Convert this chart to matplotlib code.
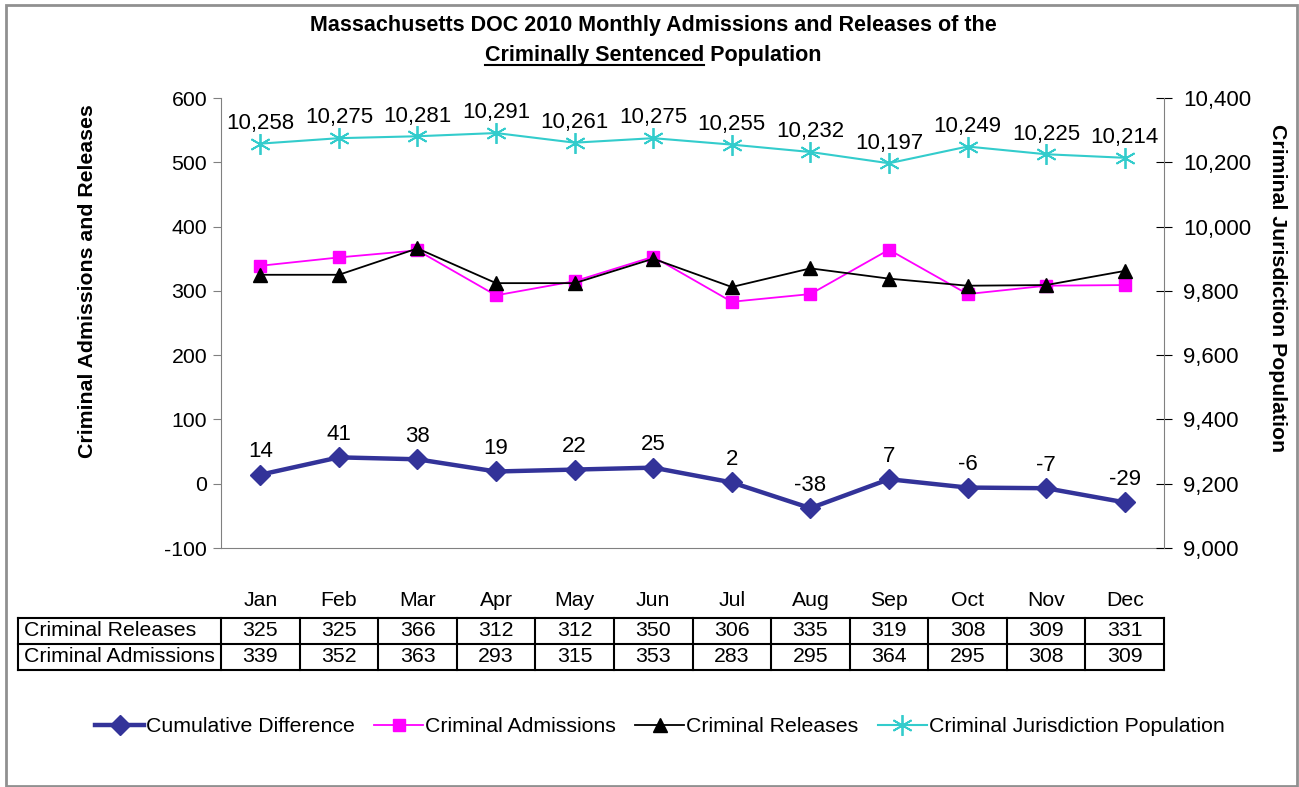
import numpy as np
import matplotlib.pyplot as plt
from matplotlib.lines import Line2D
from matplotlib.patches import Rectangle
import matplotlib.transforms as mtransforms

plt.rcParams['font.family'] = ['Liberation Sans', 'DejaVu Sans']
plt.rcParams['axes.unicode_minus'] = False

# Data
months = ['Jan', 'Feb', 'Mar', 'Apr', 'May', 'Jun', 'Jul', 'Aug', 'Sep', 'Oct', 'Nov', 'Dec']
releases = [325, 325, 366, 312, 312, 350, 306, 335, 319, 308, 309, 331]
admissions = [339, 352, 363, 293, 315, 353, 283, 295, 364, 295, 308, 309]
cum_diff = [14, 41, 38, 19, 22, 25, 2, -38, 7, -6, -7, -29]
population = [10258, 10275, 10281, 10291, 10261, 10275, 10255, 10232, 10197, 10249, 10225, 10214]

W, H = 1299, 787
fig = plt.figure(figsize=(W / 100, H / 100), dpi=100)

# plot area in pixels
x0, x1, ytop, ybot = 221, 1164, 98, 548
ax = fig.add_axes([x0 / W, 1 - ybot / H, (x1 - x0) / W, (ybot - ytop) / H])
ax2 = ax.twinx()

x = np.arange(len(months))
fs = 15.3

dark_blue = '#333399'
magenta = '#FF00FF'
turq = '#33CCCC'

l1, = ax.plot(x, cum_diff, color=dark_blue, lw=3.2, marker='D', ms=10, label='Cumulative Difference', zorder=4)
l2, = ax.plot(x, admissions, color=magenta, lw=1.3, marker='s', ms=9, label='Criminal Admissions', zorder=3)
l3, = ax.plot(x, releases, color='black', lw=1.3, marker='^', ms=10, label='Criminal Releases', zorder=4)
l4, = ax2.plot(x, population, color=turq, lw=1.5, marker=(6, 2, 0), ms=15, mew=1.3,
               label='Criminal Jurisdiction Population')

for xi, v in zip(x, cum_diff):
    ax.annotate(str(v), (xi, v), xytext=(0, 9), textcoords='offset points',
                ha='center', va='bottom', fontsize=16)
for xi, v in zip(x, population):
    ax2.annotate(f'{v:,}', (xi, v), xytext=(0, 7), textcoords='offset points',
                 ha='center', va='bottom', fontsize=16)

ax.set_xlim(-0.5, 11.5)
ax.set_ylim(-100, 600)
ax.set_yticks(range(-100, 601, 100))
ax2.set_ylim(9000, 10400)
ax2.set_yticks(range(9000, 10401, 200))
ax2.set_yticklabels([f'{v:,}' for v in range(9000, 10401, 200)])
ax.set_xticks([])

for a in (ax, ax2):
    a.spines['top'].set_visible(False)
    for s in a.spines.values():
        s.set_color('#808080')
ax.spines['right'].set_visible(False)
ax2.spines['left'].set_visible(False)
ax2.spines['bottom'].set_visible(False)
ax.tick_params(axis='y', labelsize=fs, length=6, color='#808080', direction='out', pad=4)
ax2.tick_params(axis='y', labelsize=16, length=12, color='black', direction='inout', pad=8)

fig.text(88 / W, 1 - 281 / H, 'Criminal Admissions and Releases', rotation=90,
         ha='center', va='center', fontsize=fs, fontweight='bold')
fig.text(1277 / W, 1 - 288 / H, 'Criminal Jurisdiction Population', rotation=-90,
         ha='center', va='center', fontsize=fs, fontweight='bold')

# data table below the plot
tr = mtransforms.blended_transform_factory(ax.transData, ax.transAxes)
def ay(p):
    return (ybot - p) / (ybot - ytop)
t_top, t_mid, t_bot, lab_y = ay(618), ay(644), ay(670), ay(600)
left_edge = (18 - x0) / ((x1 - x0) / 12) - 0.5
for xi, m in zip(x, months):
    ax.text(xi, lab_y, m, transform=tr, ha='center', va='center', fontsize=fs, clip_on=False)
lw = 1.5
for yy in (t_top, t_mid, t_bot):
    ax.add_line(Line2D([left_edge, 11.5], [yy, yy], transform=tr, color='black', lw=lw, clip_on=False))
for xx in [left_edge] + [i - 0.5 for i in range(13)]:
    ax.add_line(Line2D([xx, xx], [t_top, t_bot], transform=tr, color='black', lw=lw, clip_on=False))
rows = [('Criminal Releases', releases), ('Criminal Admissions', admissions)]
for (name, vals), (ya, yb) in zip(rows, [(t_top, t_mid), (t_mid, t_bot)]):
    yc = (ya + yb) / 2
    ax.text(left_edge + 0.07, yc, name, transform=tr, ha='left', va='center', fontsize=fs, clip_on=False)
    for xi, v in zip(x, vals):
        ax.text(xi, yc, str(v), transform=tr, ha='center', va='center', fontsize=fs, clip_on=False)

# legend
fig.legend(handles=[l1, l2, l3, l4], loc='center', bbox_to_anchor=(0.508, 1 - 727 / H),
           ncol=4, frameon=False, fontsize=fs, handlelength=2.3, handletextpad=0.1,
           columnspacing=0.9)

# title with underlined part
tfs = 15.5
fig.text(653 / W, 1 - 25 / H, 'Massachusetts DOC 2010 Monthly Admissions and Releases of the',
         ha='center', va='center', fontsize=tfs, fontweight='bold')
t2 = fig.text(653 / W, 1 - 55 / H, 'Criminally Sentenced Population',
              ha='center', va='center', fontsize=tfs, fontweight='bold')
renderer = fig.canvas.get_renderer()
bb = t2.get_window_extent(renderer)
t_part = fig.text(bb.x0 / W, 1 - 55 / H, 'Criminally Sentenced', ha='left', va='center',
                  fontsize=tfs, fontweight='bold', alpha=0)
bb2 = t_part.get_window_extent(renderer)
uy = (bb2.y0 + 1) / H
fig.add_artist(Line2D([bb2.x0 / W, bb2.x1 / W], [uy, uy], color='black', lw=1.5))

# outer frame
fig.add_artist(Rectangle((6 / W, 1 - 786 / H), (1297 - 6) / W, (786 - 5) / H,
                         transform=fig.transFigure, fill=False, ec='#909090', lw=2))

fig.savefig('out.png', dpi=100)
